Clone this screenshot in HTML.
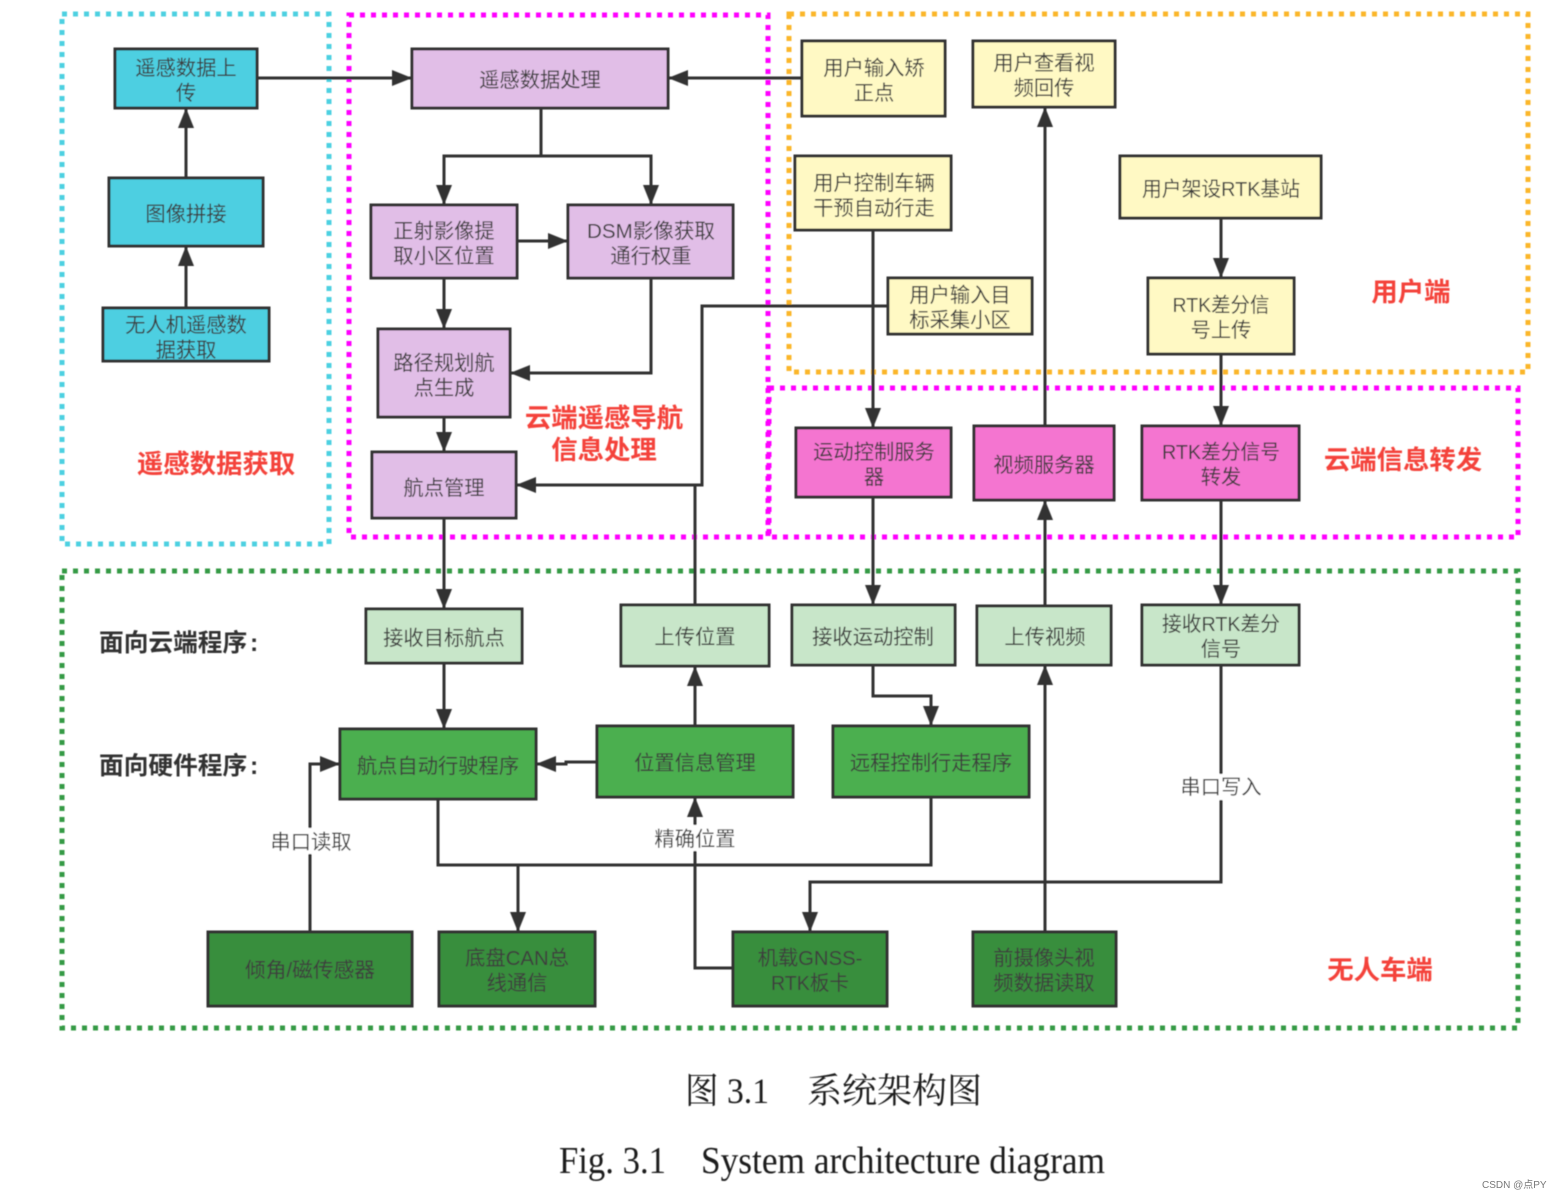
<!DOCTYPE html>
<html><head><meta charset="utf-8"><style>
html,body{margin:0;padding:0;background:#fff}
svg{display:block}
.t{font-family:"Liberation Sans","Noto Sans CJK SC",sans-serif;font-size:20.3px;fill:#3c3c3c;text-anchor:middle}
.r{font-family:"Liberation Sans","Noto Sans CJK SC",sans-serif;font-size:26.4px;font-weight:700;fill:#f4433a;text-anchor:middle}
.k{font-family:"Liberation Sans","Noto Sans CJK SC",sans-serif;font-size:24.7px;font-weight:700;fill:#333;text-anchor:start}
.b rect{stroke:#333;stroke-width:3}
.c path{fill:none;stroke:#333;stroke-width:3}
.f rect{fill:none;stroke-width:5;stroke-dasharray:5 6}
.w{fill:#fff;stroke:none}
</style></head><body>
<svg width="1561" height="1199" viewBox="0 0 1561 1199" xmlns="http://www.w3.org/2000/svg">
<defs>
<marker id="a" markerUnits="userSpaceOnUse" markerWidth="22" markerHeight="18" refX="20" refY="8" orient="auto"><path d="M0 0L20 8L0 16z" fill="#333"/></marker>
<filter id="s" x="-2%" y="-2%" width="104%" height="104%"><feGaussianBlur stdDeviation="0.5"/></filter>
</defs>
<g filter="url(#s)">
<g class="f">
<rect x="62" y="14" width="267" height="530" stroke="#4dd0e1"/>
<rect x="349" y="15" width="419" height="522" stroke="#f0f"/>
<rect x="789" y="14" width="739" height="358" stroke="#fbb62a"/>
<rect x="769" y="388" width="749" height="149" stroke="#f0f"/>
<rect x="62" y="571" width="1456" height="457" stroke="#359a45"/>
</g>
<g class="c">
<path d="M257 78H412" marker-end="url(#a)"/>
<path d="M186 178V108" marker-end="url(#a)"/>
<path d="M186 308V246" marker-end="url(#a)"/>
<path d="M802 78H668" marker-end="url(#a)"/>
<path d="M541 108V156H444V205" marker-end="url(#a)"/>
<path d="M541 156H651V205" marker-end="url(#a)"/>
<path d="M517 241H568" marker-end="url(#a)"/>
<path d="M444 278V329" marker-end="url(#a)"/>
<path d="M651 278V373H510" marker-end="url(#a)"/>
<path d="M444 417V452" marker-end="url(#a)"/>
<path d="M888 306H702V485H516" marker-end="url(#a)"/>
<path d="M695 605V485"/>
<path d="M444 518V609" marker-end="url(#a)"/>
<path d="M444 663V729" marker-end="url(#a)"/>
<path d="M695 726V666" marker-end="url(#a)"/>
<path d="M597 762H566V764H536" marker-end="url(#a)"/>
<path d="M873 665V696H931V726" marker-end="url(#a)"/>
<path d="M873 230V428" marker-end="url(#a)"/>
<path d="M873 497V605" marker-end="url(#a)"/>
<path d="M1045 426V107" marker-end="url(#a)"/>
<path d="M1045 605V500" marker-end="url(#a)"/>
<path d="M1045 932V665" marker-end="url(#a)"/>
<path d="M1221 218V278" marker-end="url(#a)"/>
<path d="M1221 354V426" marker-end="url(#a)"/>
<path d="M1221 500V605" marker-end="url(#a)"/>
<path d="M1221 665V882H810V932" marker-end="url(#a)"/>
<path d="M310 932V764H340" marker-end="url(#a)"/>
<path d="M438 799V865H931V797"/>
<path d="M518 865V932" marker-end="url(#a)"/>
<path d="M733 968H695V797" marker-end="url(#a)"/>
</g>
<g class="b">
<g fill="#4dcfe1">
<rect x="115" y="49" width="142" height="59"/>
<rect x="109" y="178" width="154" height="68"/>
<rect x="103" y="308" width="166" height="53"/>
</g>
<g fill="#e1bee7">
<rect x="412" y="49" width="256" height="59"/>
<rect x="371" y="205" width="146" height="73"/>
<rect x="568" y="205" width="165" height="73"/>
<rect x="378" y="329" width="132" height="88"/>
<rect x="372" y="452" width="144" height="66"/>
</g>
<g fill="#fff9c4">
<rect x="802" y="41" width="143" height="75"/>
<rect x="973" y="41" width="142" height="66"/>
<rect x="795" y="156" width="156" height="74"/>
<rect x="1120" y="156" width="201" height="62"/>
<rect x="1148" y="278" width="146" height="76"/>
<rect x="888" y="278" width="144" height="56"/>
</g>
<g fill="#f474d0">
<rect x="796" y="428" width="155" height="69"/>
<rect x="974" y="426" width="140" height="74"/>
<rect x="1142" y="426" width="157" height="74"/>
</g>
<g fill="#c8e6c9">
<rect x="366" y="609" width="156" height="54"/>
<rect x="621" y="605" width="148" height="61"/>
<rect x="792" y="605" width="163" height="60"/>
<rect x="977" y="606" width="134" height="59"/>
<rect x="1142" y="605" width="157" height="60"/>
</g>
<g fill="#4caf50">
<rect x="340" y="729" width="196" height="70"/>
<rect x="597" y="726" width="196" height="71"/>
<rect x="833" y="726" width="196" height="71"/>
</g>
<g fill="#388e3c">
<rect x="208" y="932" width="204" height="74"/>
<rect x="439" y="932" width="156" height="74"/>
<rect x="733" y="932" width="154" height="74"/>
<rect x="973" y="932" width="143" height="74"/>
</g>
</g>
<g class="w">
<rect x="268" y="828" width="86" height="26"/>
<rect x="652" y="825" width="86" height="26"/>
<rect x="1178" y="774" width="86" height="26"/>
</g>
<g class="t">
<text x="186" y="75">遥感数据上</text><text x="186" y="100">传</text>
<text x="186" y="221">图像拼接</text>
<text x="186" y="332">无人机遥感数</text><text x="186" y="357">据获取</text>
<text x="540" y="87">遥感数据处理</text>
<text x="444" y="238">正射影像提</text><text x="444" y="263">取小区位置</text>
<text x="651" y="238" textLength="128" lengthAdjust="spacingAndGlyphs">DSM影像获取</text><text x="651" y="263">通行权重</text>
<text x="444" y="370">路径规划航</text><text x="444" y="395">点生成</text>
<text x="444" y="495">航点管理</text>
<text x="874" y="75">用户输入矫</text><text x="874" y="100">正点</text>
<text x="1044" y="70">用户查看视</text><text x="1044" y="95">频回传</text>
<text x="874" y="190">用户控制车辆</text><text x="874" y="215">干预自动行走</text>
<text x="1221" y="196" textLength="158" lengthAdjust="spacingAndGlyphs">用户架设RTK基站</text>
<text x="1221" y="312" textLength="97" lengthAdjust="spacingAndGlyphs">RTK差分信</text><text x="1221" y="337">号上传</text>
<text x="960" y="302">用户输入目</text><text x="960" y="327">标采集小区</text>
<text x="874" y="459">运动控制服务</text><text x="874" y="484">器</text>
<text x="1044" y="472">视频服务器</text>
<text x="1221" y="459" textLength="118" lengthAdjust="spacingAndGlyphs">RTK差分信号</text><text x="1221" y="484">转发</text>
<text x="444" y="645">接收目标航点</text>
<text x="695" y="644">上传位置</text>
<text x="873" y="644">接收运动控制</text>
<text x="1045" y="644">上传视频</text>
<text x="1221" y="631" textLength="118" lengthAdjust="spacingAndGlyphs">接收RTK差分</text><text x="1221" y="656">信号</text>
<text x="438" y="773">航点自动行驶程序</text>
<text x="695" y="770">位置信息管理</text>
<text x="931" y="770">远程控制行走程序</text>
<text x="310" y="977" textLength="130" lengthAdjust="spacingAndGlyphs">倾角/磁传感器</text>
<text x="517" y="965" textLength="104" lengthAdjust="spacingAndGlyphs">底盘CAN总</text><text x="517" y="990">线通信</text>
<text x="810" y="965">机载GNSS-</text><text x="810" y="990" textLength="78" lengthAdjust="spacingAndGlyphs">RTK板卡</text>
<text x="1044" y="965">前摄像头视</text><text x="1044" y="990">频数据读取</text>
<text x="311" y="849">串口读取</text>
<text x="695" y="846">精确位置</text>
<text x="1221" y="794">串口写入</text>
</g>
<g class="r">
<text x="216" y="473">遥感数据获取</text>
<text x="604" y="427">云端遥感导航</text>
<text x="604" y="459">信息处理</text>
<text x="1411" y="301">用户端</text>
<text x="1403" y="469">云端信息转发</text>
<text x="1380" y="979">无人车端</text>
</g>
<g class="k">
<text x="99" y="651">面向云端程序<tspan x="250">:</tspan></text>
<text x="99" y="774">面向硬件程序<tspan x="250">:</tspan></text>
</g>
<text x="685" y="1103" font-family="'Liberation Serif','Noto Serif CJK SC',serif" font-size="36" fill="#1a1a1a" textLength="84" lengthAdjust="spacingAndGlyphs">图 3.1</text>
<text x="807" y="1103" font-family="'Liberation Serif','Noto Serif CJK SC',serif" font-size="35" fill="#1a1a1a" textLength="175">系统架构图</text>
<text x="559" y="1173" font-family="'Liberation Serif',serif" font-size="38" fill="#1a1a1a" textLength="107" lengthAdjust="spacingAndGlyphs">Fig. 3.1</text>
<text x="701" y="1173" font-family="'Liberation Serif',serif" font-size="38" fill="#1a1a1a" textLength="404" lengthAdjust="spacingAndGlyphs">System architecture diagram</text>
</g>
<text x="1482" y="1188" font-family="'Liberation Sans','Noto Sans CJK SC',sans-serif" font-size="10" fill="#777">CSDN @点PY</text>
</svg>
</body></html>
